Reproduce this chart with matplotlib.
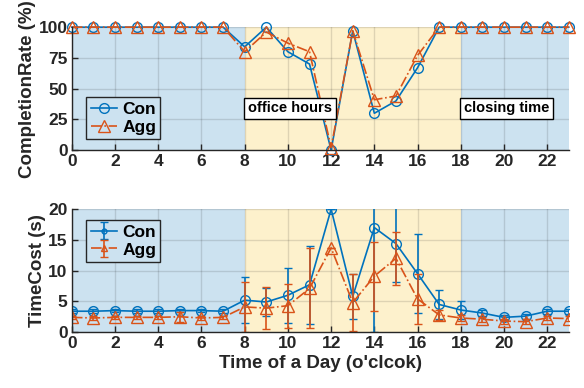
import numpy as np
import matplotlib
matplotlib.use('Agg')
import matplotlib.pyplot as plt

plt.rcParams['font.family'] = ['Liberation Sans', 'DejaVu Sans']
plt.rcParams['font.weight'] = 'bold'
plt.rcParams['axes.labelweight'] = 'bold'
plt.rcParams['font.size'] = 12.5

hours = np.arange(24)

# completion rate (%)
rate_con = [100, 100, 100, 100, 100, 100, 100, 100, 84, 100, 80, 70, 0, 97,
            30, 40, 67, 100, 100, 100, 100, 100, 100, 100]
rate_agg = [100, 100, 100, 100, 100, 100, 100, 100, 80, 96, 87, 80, 2, 97,
            41, 44, 77, 100, 100, 100, 100, 100, 100, 100]

# time cost (s) and error
cost_con = [3.4, 3.4, 3.5, 3.4, 3.4, 3.5, 3.5, 3.4, 5.2, 4.9, 6.0, 7.7, 20.0, 5.8,
            17.0, 14.4, 9.5, 4.5, 3.6, 3.1, 2.4, 2.6, 3.4, 3.4]
err_con = [0.3, 0.3, 0.3, 0.3, 0.3, 0.3, 0.3, 0.3, 3.7, 2.3, 4.5, 6.3, 0.0, 3.7,
           17.0, 6.2, 6.4, 2.4, 1.4, 0.5, 0.4, 0.4, 0.4, 0.4]
cost_agg = [2.4, 2.3, 2.4, 2.4, 2.4, 2.5, 2.3, 2.4, 4.1, 3.9, 4.3, 7.1, 13.7, 4.8,
            9.1, 12.0, 5.4, 2.8, 2.3, 2.1, 1.8, 1.7, 2.3, 2.2]
err_agg = [0.3, 0.3, 0.3, 0.3, 0.3, 0.8, 0.3, 0.3, 4.1, 3.4, 3.6, 6.5, 0.0, 4.6,
           5.6, 4.3, 4.0, 0.8, 0.5, 0.4, 0.4, 0.4, 0.4, 0.4]

blue = '#0072BD'
orange = '#D95319'
bg_blue = '#cce2f0'
bg_yellow = '#fdf1cc'


def style_axes(ax, ylim, yticks):
    ax.axvspan(0, 8, color=bg_blue, zorder=0, lw=0)
    ax.axvspan(8, 18, color=bg_yellow, zorder=0, lw=0)
    ax.axvspan(18, 23, color=bg_blue, zorder=0, lw=0)
    ax.set_xlim(0, 23)
    ax.set_ylim(*ylim)
    ax.set_xticks(range(0, 23, 2))
    ax.set_yticks(yticks)
    ax.grid(True, color='black', alpha=0.12, lw=1)
    ax.set_axisbelow(False)
    ax.tick_params(direction='in', length=4, width=1, color='#262626',
                   labelcolor='#262626', pad=3, labelsize=12.5)
    for s in ['top', 'right']:
        ax.spines[s].set_visible(False)
    for s in ['left', 'bottom']:
        ax.spines[s].set_color('#262626')
        ax.spines[s].set_linewidth(1)
        ax.spines[s].set_zorder(5)


fig = plt.figure(figsize=(5.84, 3.88), dpi=100)
ax1 = fig.add_axes([0.123, 0.613, 0.851, 0.317])
ax2 = fig.add_axes([0.123, 0.144, 0.851, 0.317])

# top: completion rate
style_axes(ax1, (0, 100), [0, 25, 50, 75, 100])
ax1.plot(hours, rate_con, '-o', color=blue, mfc='none', ms=7, lw=1.2,
         label='Con', clip_on=False, zorder=3)
ax1.plot(hours, rate_agg, '-.^', color=orange, mfc='none', ms=8, lw=1.2,
         label='Agg', clip_on=False, zorder=4)
ax1.set_ylabel('CompletionRate (%)', color='#262626', fontsize=13.5)
bbox = dict(boxstyle='square,pad=0.25', fc='white', ec='black', lw=1)
ax1.text(8.15, 34, 'office hours', fontsize=10.5, ha='left', va='center',
         bbox=bbox, zorder=6)
ax1.text(18.15, 34, 'closing time', fontsize=10.5, ha='left', va='center',
         bbox=bbox, zorder=6)
leg1 = ax1.legend(loc='lower left', bbox_to_anchor=(0.012, 0.02), fancybox=False,
                  framealpha=1, facecolor=bg_blue, edgecolor='#262626',
                  handlelength=1.5, handletextpad=0.3, borderpad=0.25,
                  labelspacing=0.15, fontsize=12.5)
leg1.get_frame().set_linewidth(1)

# bottom: time cost
style_axes(ax2, (0, 20), [0, 5, 10, 15, 20])
ax2.errorbar(hours, cost_con, yerr=err_con, fmt='-o', color=blue, mfc='none',
             ms=7, lw=1.2, capsize=3, elinewidth=1.2, label='Con', zorder=3)
ax2.errorbar(hours, cost_agg, yerr=err_agg, fmt='-.^', color=orange, mfc='none',
             ms=8, lw=1.2, capsize=3, elinewidth=1.2, label='Agg', zorder=4)
ax2.set_ylabel('TimeCost (s)', color='#262626', fontsize=13.5)
ax2.set_xlabel("Time of a Day (o'clcok)", color='#262626', fontsize=13.5,
               labelpad=3)
leg2 = ax2.legend(loc='upper left', bbox_to_anchor=(0.012, 0.98), fancybox=False,
                  framealpha=1, facecolor=bg_blue, edgecolor='#262626',
                  handlelength=1.5, handletextpad=0.3, borderpad=0.25,
                  labelspacing=0.15, fontsize=12.5, markerscale=0.5)
leg2.get_frame().set_linewidth(1)

ax1.yaxis.set_label_coords(-0.072, 0.5)
ax2.yaxis.set_label_coords(-0.052, 0.5)

fig.savefig('out.png', dpi=100)
